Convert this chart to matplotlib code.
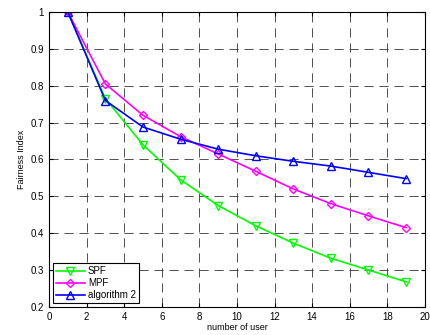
import numpy as np
import matplotlib.pyplot as plt

plt.rcParams['font.family'] = ['Liberation Sans', 'DejaVu Sans']

users = [1, 3, 5, 7, 9, 11, 13, 15, 17, 19]
spf = [1.0, 0.765, 0.64, 0.545, 0.475, 0.42, 0.373, 0.332, 0.30, 0.268]
mpf = [1.0, 0.805, 0.72, 0.662, 0.615, 0.568, 0.52, 0.48, 0.447, 0.415]
algo2 = [1.0, 0.76, 0.688, 0.655, 0.628, 0.61, 0.595, 0.582, 0.565, 0.548]

fig = plt.figure(figsize=(4.3, 3.35), dpi=100)
ax = fig.add_axes([0.114, 0.084, 0.874, 0.880])

ax.plot(users, spf, color='#00ff00', marker='v', markerfacecolor='none',
        markersize=5.5, lw=1.2, label='SPF')
ax.plot(users, mpf, color='#ff00ff', marker='D', markerfacecolor='none',
        markersize=4.2, lw=1.2, label='MPF')
ax.plot(users, algo2, color='#0000ff', marker='^', markerfacecolor='none',
        markersize=5.5, lw=1.2, label='algorithm 2')

ax.set_xlim(0, 20)
ax.set_ylim(0.2, 1.0)
ax.set_xticks(np.arange(0, 21, 2))
ax.set_yticks(np.arange(0.2, 1.01, 0.1))
ax.set_yticklabels(['0.2', '0.3', '0.4', '0.5', '0.6', '0.7', '0.8', '0.9', '1'])
ax.grid(True, color='#333333', linestyle=(0, (11, 7)), lw=0.6)
ax.tick_params(direction='in', labelsize=7, length=3, top=True, right=True)
for s in ax.spines.values():
    s.set_linewidth(0.8)

ax.set_xlabel('number of user', fontsize=6.5, labelpad=1)
ax.set_ylabel('Fairness Index', fontsize=6.5, labelpad=3)

leg = ax.legend(loc='lower left', fontsize=7, fancybox=False, framealpha=1,
                edgecolor='black', borderpad=0.3, labelspacing=0.2,
                handlelength=3, handletextpad=0.3, borderaxespad=0.4)
leg.get_frame().set_linewidth(0.8)

fig.savefig('out.png', dpi=100)
